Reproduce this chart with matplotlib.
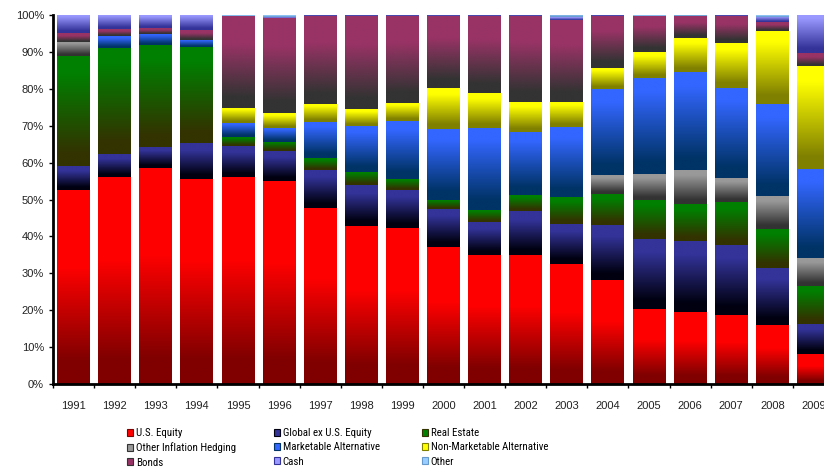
import numpy as np
import matplotlib
matplotlib.use('Agg')
import matplotlib.pyplot as plt
from matplotlib.colors import LinearSegmentedColormap
from matplotlib.patches import Patch

years = ['1991', '1992', '1993', '1994', '1995', '1996', '1997', '1998', '1999', '2000',
         '2001', '2002', '2003', '2004', '2005', '2006', '2007', '2008', '2009']

# allocation shares in %
us_equity   = [52.6, 56.1, 58.5, 55.6, 56.1, 55.0, 47.7, 42.8, 42.3, 37.1,
               35.0, 35.0, 32.5, 28.2, 20.3, 19.5, 18.7, 16.0, 8.1]
global_eq   = [6.5, 6.2, 5.7, 9.7, 8.4, 8.1, 10.3, 11.1, 10.3, 10.3,
               8.9, 11.9, 10.9, 14.9, 19.0, 19.3, 19.0, 15.4, 8.2]
real_estate = [29.8, 28.8, 27.7, 26.0, 2.4, 2.5, 3.2, 3.6, 3.0, 2.5,
               3.3, 4.3, 7.3, 8.4, 10.6, 10.0, 11.6, 10.6, 10.3]
other_infl  = [3.8, 0, 0, 0, 0, 0, 0, 0, 0, 0,
               0, 0, 0, 5.1, 7.0, 9.2, 6.5, 8.9, 7.5]
marketable  = [0, 3.2, 3.0, 1.9, 3.8, 3.9, 9.8, 12.5, 15.7, 19.2,
               22.3, 17.2, 18.9, 23.3, 26.1, 26.6, 24.5, 25.1, 24.2]
non_market  = [0, 0, 0, 0, 4.1, 3.9, 4.9, 4.5, 4.9, 11.1,
               9.4, 8.0, 6.8, 5.7, 7.0, 9.2, 12.1, 19.7, 27.9]
bonds       = [2.4, 1.8, 1.6, 2.7, 24.9, 25.9, 23.8, 25.2, 23.5, 19.5,
               20.8, 23.3, 22.2, 14.1, 9.7, 5.9, 7.3, 2.4, 3.5]
cash        = [4.9, 3.9, 3.5, 4.1, 0.1, 0.2, 0.3, 0.3, 0.3, 0.3,
               0.3, 0.3, 0.8, 0.3, 0.1, 0.0, 0.3, 1.4, 10.3]
other       = [0, 0, 0, 0, 0.2, 0.5, 0, 0, 0, 0,
               0, 0, 0.6, 0, 0.2, 0.3, 0, 0.5, 0]

series = [
    ('U.S. Equity', us_equity, '#ff0000', '#800000', 0.6),
    ('Global ex U.S. Equity', global_eq, '#333399', '#000010', 0.8),
    ('Real Estate', real_estate, '#008000', '#333300', 0.85),
    ('Other Inflation Hedging', other_infl, '#999999', '#333333', 0.85),
    ('Marketable Alternative', marketable, '#3366ff', '#003366', 0.85),
    ('Non-Marketable Alternative', non_market, '#ffff00', '#808000', 0.85),
    ('Bonds', bonds, '#993366', '#333333', 0.7),
    ('Cash', cash, '#9999ff', '#333399', 0.9),
    ('Other', other, '#99ccff', '#6699cc', 0.9),
]

fig = plt.figure(figsize=(8.24, 4.71), dpi=100)
ax = fig.add_axes([53 / 824, 87 / 471, 781 / 824, 369 / 471])

x = np.arange(len(years))
grad = np.linspace(0, 1, 256).reshape(-1, 1)
bottom = np.zeros(len(years))
handles = []
for name, vals, top_c, bot_c, stop in series:
    vals = np.array(vals)
    cmap = LinearSegmentedColormap.from_list(name, [(0, bot_c), (0.12, bot_c), (stop, top_c), (1, top_c)])
    bars = ax.bar(x, vals, bottom=bottom, width=0.8, color='none', linewidth=0)
    for r in bars:
        if r.get_height() <= 0:
            continue
        x0, y0, w, h = r.get_x(), r.get_y(), r.get_width(), r.get_height()
        ax.imshow(grad, extent=[x0, x0 + w, y0, y0 + h], cmap=cmap, aspect='auto',
                  origin='lower', interpolation='bilinear', zorder=2)
    bottom += vals
    handles.append(Patch(facecolor=top_c, edgecolor=bot_c, linewidth=0.8, label=name))

ax.set_xlim(-0.5, len(years) - 0.5)
ax.set_ylim(0, 100)
ax.set_yticks(np.arange(0, 101, 10))
ax.set_yticklabels([f'{v}%' for v in range(0, 101, 10)], fontsize=8,
                   family='Liberation Sans', color='#222222')
ax.set_xticks(np.arange(len(years) + 1) - 0.5)
ax.set_xticklabels([])
ax.set_xticks(x, minor=True)
ax.set_xticklabels(years, minor=True, fontsize=8, family='Liberation Sans', color='#222222')
ax.tick_params(axis='x', which='minor', length=0, pad=12)
ax.tick_params(axis='both', which='major', length=3, width=1, direction='out')
for s in ['top', 'right']:
    ax.spines[s].set_visible(False)
for s in ['left', 'bottom']:
    ax.spines[s].set_linewidth(2)
    ax.spines[s].set_zorder(5)

# legend: three columns placed by hand
cols = [(handles[0], handles[3], handles[6]),
        (handles[1], handles[4], handles[7]),
        (handles[2], handles[5], handles[8])]
col_x = [127, 274, 422]
for hs, cx in zip(cols, col_x):
    fig.legend(handles=list(hs), loc='upper left', bbox_to_anchor=(cx / 824, 1 - 428 / 471),
               frameon=False, borderpad=0, borderaxespad=0, handlelength=0.55,
               handleheight=0.65, handletextpad=0.25, labelspacing=0.4,
               prop={'family': ['Roboto Condensed', 'DejaVu Sans'], 'size': 7.8})

fig.savefig('out.png', dpi=100)
